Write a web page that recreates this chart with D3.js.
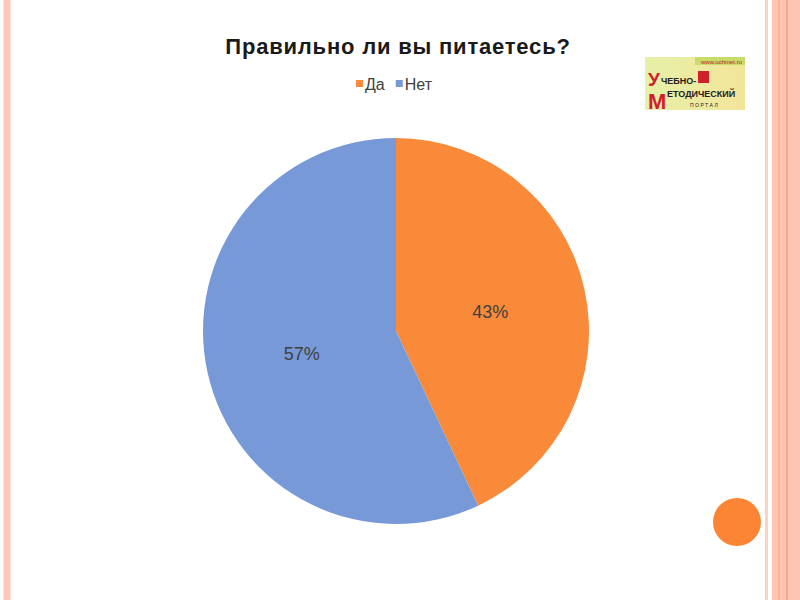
<!DOCTYPE html>
<html><head><meta charset="utf-8">
<script src="https://cdn.jsdelivr.net/npm/d3@7"></script>
<style>body{margin:0;background:#fff}svg{display:block}</style>
</head><body>
<svg id="c" width="800" height="600"></svg>
<script>
const categories = ["Да", "Нет"];
const values = [43, 57];
const colors = ["#F98A3A", "#7899D8"];
const title = "Правильно ли вы питаетесь?";

const svg = d3.select("#c");
const font = "Arial, 'Liberation Sans', sans-serif";

// slide borders
svg.append("rect").attr("x",4).attr("y",0).attr("width",6).attr("height",600).attr("fill","#FCC9B6");
svg.append("rect").attr("x",3).attr("y",0).attr("width",1).attr("height",600).attr("fill","#FDE3D8");
svg.append("rect").attr("x",10).attr("y",0).attr("width",1).attr("height",600).attr("fill","#FDE3D8");
svg.append("rect").attr("x",765).attr("y",0).attr("width",3).attr("height",600).attr("fill","#FDD2C2");
svg.append("rect").attr("x",772).attr("y",0).attr("width",28).attr("height",600).attr("fill","#FEC6B2");
svg.append("rect").attr("x",778).attr("y",0).attr("width",2).attr("height",600).attr("fill","#F9B49A");
svg.append("rect").attr("x",786).attr("y",0).attr("width",2).attr("height",600).attr("fill","#F7A888");

// title
svg.append("text").attr("x",398).attr("y",54).attr("text-anchor","middle")
  .attr("font-family",font).attr("font-weight","bold").attr("letter-spacing",0.8)
  .attr("font-size",22).attr("fill","#1a1a1a").text(title);

// legend
const legend = svg.append("g").attr("transform","translate(356,90)");
let lx = 0;
categories.forEach((c,i)=>{
  legend.append("rect").attr("x",lx).attr("y",-10).attr("width",7).attr("height",7).attr("fill",colors[i]);
  const t = legend.append("text").attr("x",lx+9).attr("y",0).attr("font-family",font)
    .attr("font-size",16).attr("fill","#404040").text(c);
  lx += 9 + t.node().getComputedTextLength() + 11;
});

// pie
const cx = 396, cy = 331, r = 193;
const pie = d3.pie().sort(null).value(d=>d)(values);
const arc = d3.arc().innerRadius(0).outerRadius(r);
const g = svg.append("g").attr("transform",`translate(${cx},${cy})`);
g.selectAll("path").data(pie).join("path").attr("d",arc).attr("fill",(d,i)=>colors[i]);
const labelArc = d3.arc().innerRadius(r*0.5).outerRadius(r*0.5);
g.selectAll("text.lab").data(pie).join("text").attr("class","lab")
  .attr("transform",d=>{const p=labelArc.centroid(d);return `translate(${p[0]},${p[1]+2})`;})
  .attr("text-anchor","middle").attr("dy","0.35em")
  .attr("font-family",font).attr("font-size",18).attr("fill","#404040")
  .text(d=>d.data+"%");

// logo
const logo = svg.append("g").attr("transform","translate(645,57)");
const grad = svg.append("defs").append("linearGradient").attr("id","lg").attr("x1","0").attr("x2","1");
grad.append("stop").attr("offset","0").attr("stop-color","#E6F0A8");
grad.append("stop").attr("offset","1").attr("stop-color","#F3E59A");
logo.append("rect").attr("width",100).attr("height",53).attr("fill","url(#lg)");
logo.append("rect").attr("x",50).attr("y",0).attr("width",50).attr("height",8).attr("fill","#C9DB6A");
logo.append("text").attr("x",97).attr("y",6.5).attr("text-anchor","end").attr("font-family",font)
  .attr("font-size",6).attr("fill","#B22").text("www.uchmet.ru");
logo.append("text").attr("x",3).attr("y",29).attr("font-family",font).attr("font-weight","bold")
  .attr("font-size",19).attr("fill","#D0202A").text("У");
logo.append("text").attr("x",16).attr("y",27).attr("font-family",font).attr("font-weight","bold")
  .attr("font-size",9).attr("fill","#222").text("ЧЕБНО-");
logo.append("rect").attr("x",53).attr("y",14).attr("width",11).attr("height",12).attr("fill","#D0202A");
logo.append("text").attr("x",3).attr("y",52).attr("font-family",font).attr("font-weight","bold")
  .attr("font-size",22).attr("fill","#D0202A").text("М");
logo.append("text").attr("x",22).attr("y",40).attr("font-family",font).attr("font-weight","bold")
  .attr("font-size",9).attr("fill","#222").text("ЕТОДИЧЕСКИЙ");
logo.append("text").attr("x",45).attr("y",50).attr("font-family",font)
  .attr("font-size",5).attr("letter-spacing",1.5).attr("fill","#222").text("ПОРТАЛ");

// orange circle
svg.append("circle").attr("cx",737).attr("cy",522).attr("r",24).attr("fill","#FB8535");
</script>
</body></html>
